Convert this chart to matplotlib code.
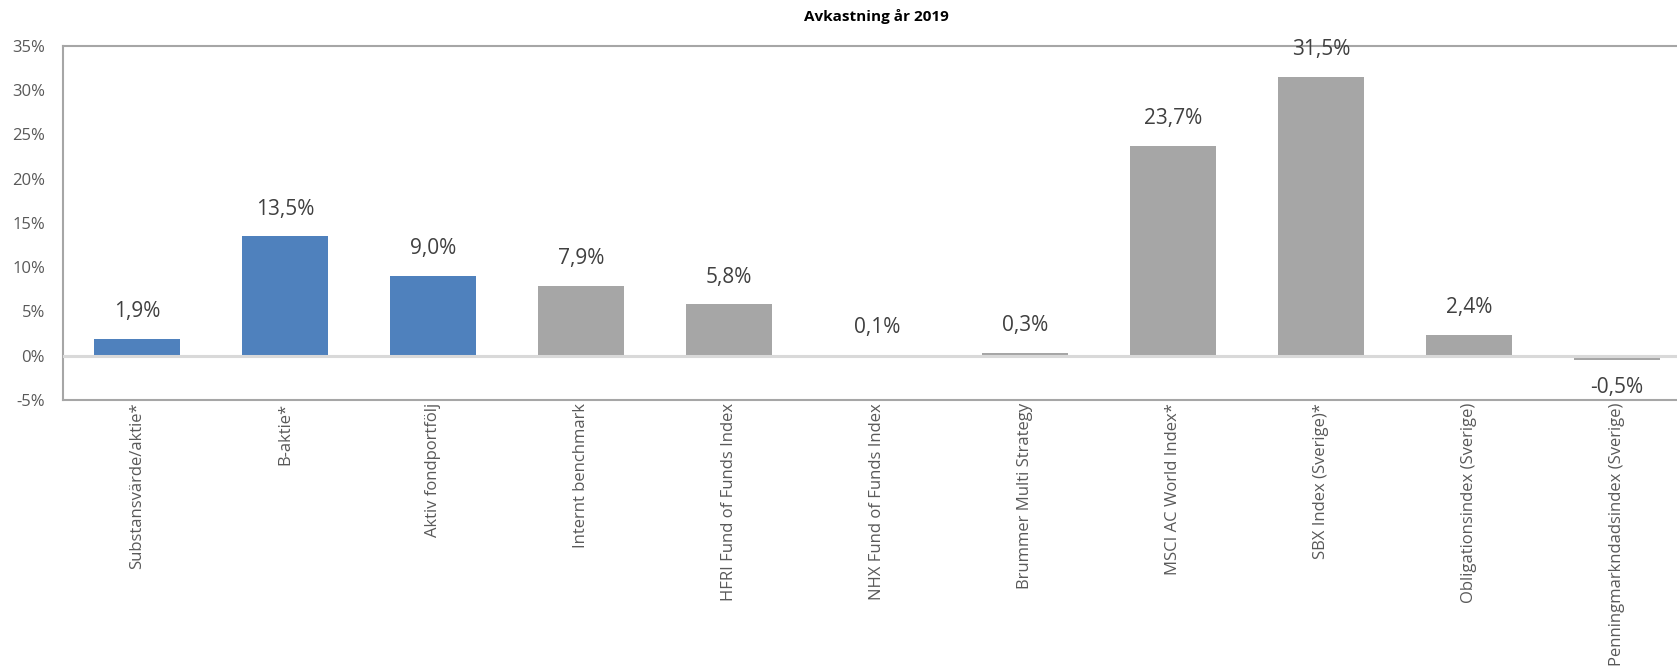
import numpy as np
import matplotlib.pyplot as plt
from matplotlib.ticker import FuncFormatter

categories = ['Substansvärde/aktie*', 'B-aktie*', 'Aktiv fondportfölj', 'Internt benchmark',
              'HFRI Fund of Funds Index', 'NHX Fund of Funds Index', 'Brummer Multi Strategy',
              'MSCI AC World Index*', 'SBX Index (Sverige)*', 'Obligationsindex (Sverige)',
              'Penningmarkndadsindex (Sverige)']
returns = [1.9, 13.5, 9.0, 7.9, 5.8, 0.1, 0.3, 23.7, 31.5, 2.4, -0.5]
own = [True, True, True, False, False, False, False, False, False, False, False]

plt.rcParams['font.family'] = ['Open Sans', 'DejaVu Sans']

fig = plt.figure(figsize=(16.77, 6.70), dpi=100)
# plot box runs past the right edge of the picture like in the original
ax = fig.add_axes([63 / 1677, 1 - 400 / 670, (1691 - 63) / 1677, (400 - 46) / 670])

x = np.arange(len(categories))
colors = ['#4f81bd' if o else '#a6a6a6' for o in own]
bars = ax.bar(x, returns, width=0.575, color=colors, zorder=2)

ax.axhline(0, color='#d9d9d9', lw=2.2, zorder=3)

ax.set_xlim(-0.5, len(categories) - 0.5)
ax.set_ylim(-5, 35)
ax.set_yticks(np.arange(-5, 36, 5))
ax.yaxis.set_major_formatter(FuncFormatter(lambda v, p: '%d%%' % v))
ax.set_xticks(x)
ax.set_xticklabels(categories, rotation=90, fontsize=12, color='#595959')
ax.tick_params(axis='x', length=0, pad=2)
ax.tick_params(axis='y', length=0, pad=13, labelsize=12, labelcolor='#595959')

for s in ['left', 'top', 'bottom']:
    ax.spines[s].set_color('#a6a6a6')
    ax.spines[s].set_linewidth(1.5)
ax.spines['right'].set_visible(False)

for b, v in zip(bars, returns):
    label = ('%.1f%%' % v).replace('.', ',')
    if v >= 0:
        ax.annotate(label, (b.get_x() + b.get_width() / 2, v), xytext=(0, 12),
                    textcoords='offset points', ha='center', va='bottom',
                    fontsize=15, color='#404040', annotation_clip=False)
    else:
        ax.annotate(label, (b.get_x() + b.get_width() / 2, v), xytext=(0, -12),
                    textcoords='offset points', ha='center', va='top',
                    fontsize=15, color='#404040', annotation_clip=False)

# title is centred over the (wider) plot box
fig.text(876 / 1677, 1 - 16 / 670, 'Avkastning år 2019', ha='center', va='center',
         fontsize=11, fontweight='bold', color='black')

fig.savefig('out.png', dpi=100)
